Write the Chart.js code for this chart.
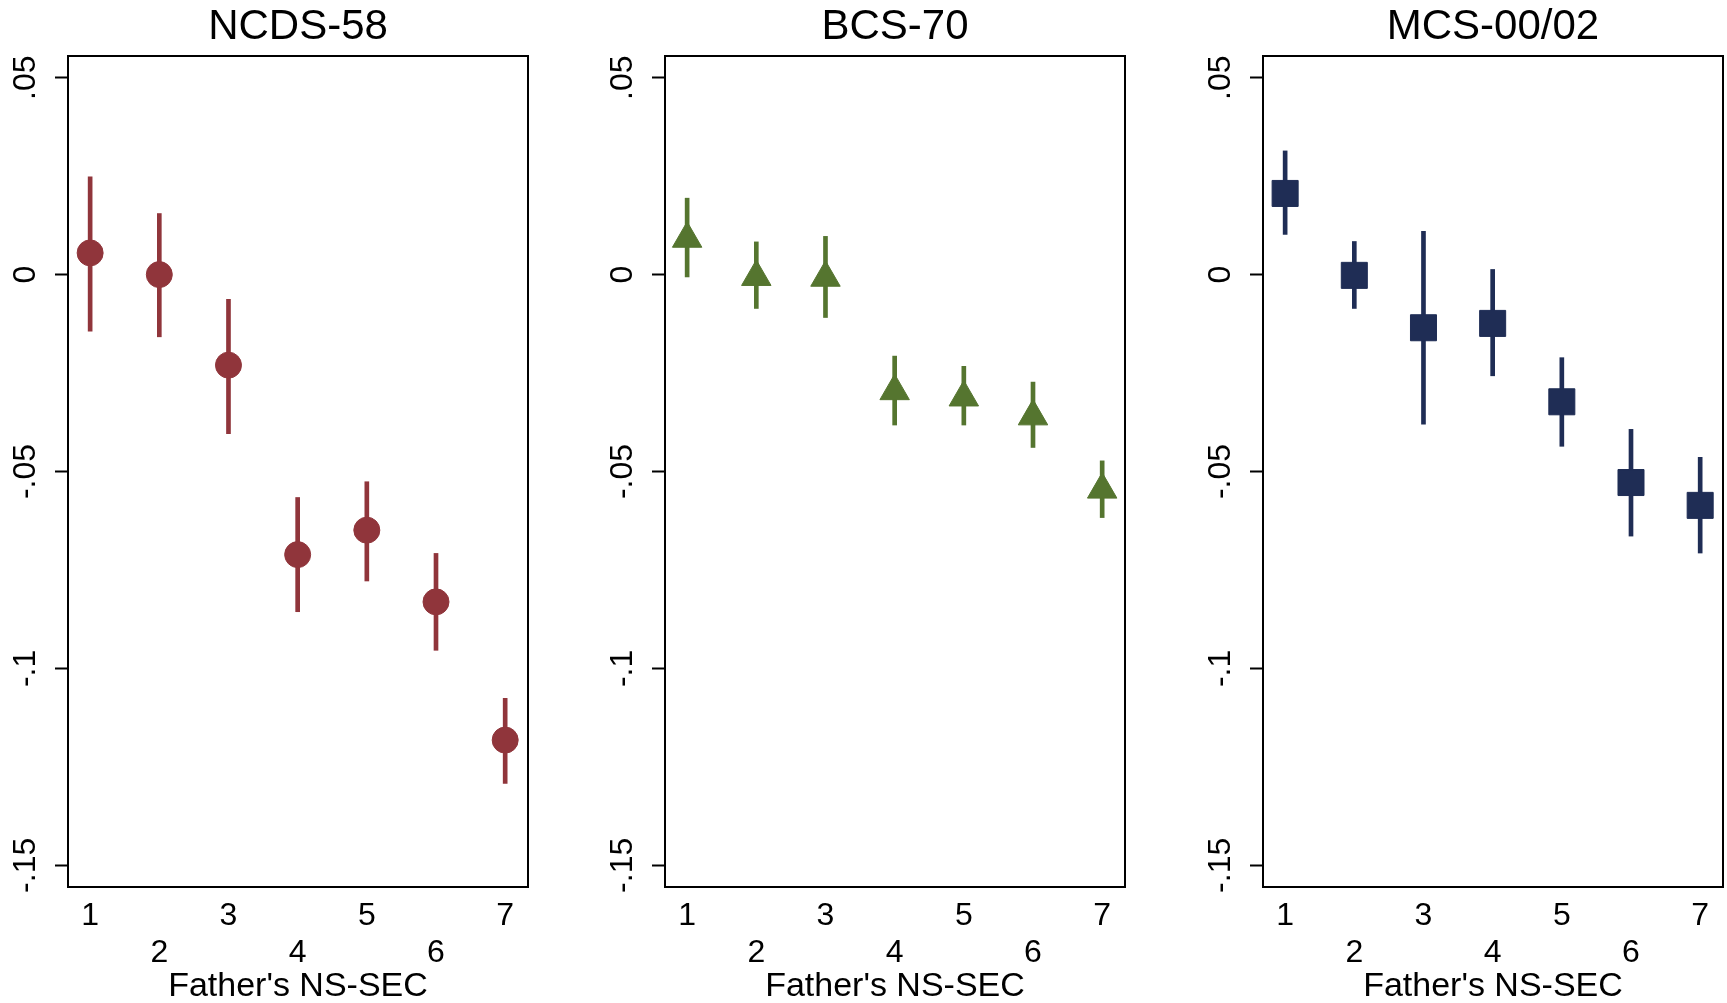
<!DOCTYPE html>
<html>
<head>
<meta charset="utf-8">
<title>Father's NS-SEC by cohort</title>
<script src="https://cdn.jsdelivr.net/npm/chart.js@4.4.1/dist/chart.umd.min.js"></script>
<style>
  html, body { margin: 0; padding: 0; background: #fff; overflow: hidden; }
  .panel { position: absolute; top: 0; }
</style>
</head>
<body>
<canvas id="ncds" class="panel" width="532" height="1003" style="left:0px"></canvas>
<canvas id="bcs" class="panel" width="532" height="1003" style="left:597px"></canvas>
<canvas id="mcs" class="panel" width="532" height="1003" style="left:1195px"></canvas>
<script>
// Father's NS-SEC categories and tick labels
const categories = [1, 2, 3, 4, 5, 6, 7];
const yTicks = [0.05, 0, -0.05, -0.1, -0.15];
const yTickLabels = ['.05', '0', '-.05', '-.1', '-.15'];

// NCDS-58
const ncdsEst = [0.0055, 0.0, -0.0230, -0.0711, -0.0649, -0.0831, -0.1182];
const ncdsLo  = [-0.0144, -0.0158, -0.0404, -0.0856, -0.0778, -0.0954, -0.1292];
const ncdsHi  = [0.0248, 0.0155, -0.0063, -0.0566, -0.0526, -0.0708, -0.1076];

// BCS-70
const bcsEst = [0.0091, -0.0006, -0.0008, -0.0296, -0.0312, -0.0360, -0.0546];
const bcsLo  = [-0.0006, -0.0086, -0.0109, -0.0382, -0.0382, -0.0439, -0.0617];
const bcsHi  = [0.0194, 0.0083, 0.0097, -0.0207, -0.0233, -0.0273, -0.0473];

// MCS-00/02
const mcsEst = [0.0206, -0.0002, -0.0135, -0.0124, -0.0323, -0.0528, -0.0586];
const mcsLo  = [0.0102, -0.0086, -0.0380, -0.0257, -0.0436, -0.0664, -0.0707];
const mcsHi  = [0.0314, 0.0084, 0.0110, 0.0013, -0.0211, -0.0393, -0.0464];

const FONT = '"Liberation Sans", Arial, Helvetica, sans-serif';
Chart.defaults.font.family = FONT;
Chart.defaults.color = '#000';

// frame, panel title and rotated y labels
const panelDecor = {
  id: 'panelDecor',
  afterDraw(chart, args, opts) {
    const { ctx, chartArea: area, scales } = chart;
    ctx.save();
    ctx.strokeStyle = '#000';
    ctx.lineWidth = 2;
    ctx.strokeRect(area.left, area.top, area.right - area.left, area.bottom - area.top);

    ctx.fillStyle = '#000';
    ctx.textAlign = 'center';
    ctx.textBaseline = 'middle';
    ctx.font = '42px ' + FONT;
    ctx.fillText(opts.text, (area.left + area.right) / 2, 27);

    ctx.font = '32px ' + FONT;
    scales.y.ticks.forEach(t => {
      const y = scales.y.getPixelForValue(t.value);
      ctx.save();
      ctx.translate(26, y);
      ctx.rotate(-Math.PI / 2);
      ctx.fillText(yTickLabels[yTicks.indexOf(t.value)], 0, 0);
      ctx.restore();
    });
    ctx.restore();
  }
};

function makePanel(id, title, est, lo, hi, color, style, radius) {
  const ctx = document.getElementById(id).getContext('2d');
  return new Chart(ctx, {
    type: 'scatter',
    data: {
      datasets: [{
        type: 'scatter',
        data: categories.map((c, i) => ({ x: c, y: est[i] })),
        pointStyle: style,
        pointRadius: radius,
        pointBackgroundColor: color,
        pointBorderColor: color,
        pointBorderWidth: 1,
        order: 1,
      }, {
        type: 'bar',
        data: categories.map((c, i) => ({ x: c, y: [lo[i], hi[i]] })),
        backgroundColor: color,
        borderWidth: 0,
        barThickness: 4,
        order: 2,
      }],
    },
    options: {
      responsive: false,
      animation: false,
      devicePixelRatio: 1,
      layout: { autoPadding: false, padding: { top: 56, right: 4, left: 0, bottom: 0 } },
      plugins: {
        legend: { display: false },
        tooltip: { enabled: false },
        panelDecor: { text: title },
      },
      scales: {
        x: {
          type: 'linear',
          min: 0.68,
          max: 7.33,
          offset: false,
          afterBuildTicks: scale => { scale.ticks = categories.map(v => ({ value: v })); },
          afterFit: scale => {
            scale.height = 116;
            scale.paddingLeft = 0;
            scale.paddingRight = 0;
          },
          grid: { display: true, drawOnChartArea: false, drawTicks: false, offset: false },
          border: { display: false },
          ticks: {
            padding: 11,
            maxRotation: 0,
            autoSkip: false,
            font: { size: 32, lineHeight: 1.15 },
            callback: v => (v % 2 === 1 ? [String(v), ''] : ['', String(v)]),
          },
          title: {
            display: true,
            text: "Father's NS-SEC",
            font: { size: 34, lineHeight: 1.2 },
            padding: { top: 0, bottom: -4 },
          },
        },
        y: {
          type: 'linear',
          min: -0.1555,
          max: 0.0555,
          afterBuildTicks: scale => { scale.ticks = yTicks.map(v => ({ value: v })); },
          afterFit: scale => {
            scale.width = 68;
            scale.paddingTop = 0;
            scale.paddingBottom = 0;
          },
          grid: {
            drawOnChartArea: false,
            drawTicks: true,
            tickLength: 13,
            tickColor: '#000',
            tickWidth: 2,
          },
          border: { display: false },
          ticks: { display: false },
        },
      },
    },
    plugins: [panelDecor],
  });
}

makePanel('ncds', 'NCDS-58', ncdsEst, ncdsLo, ncdsHi, '#90353b', 'circle', 13);
makePanel('bcs', 'BCS-70', bcsEst, bcsLo, bcsHi, '#55752f', 'triangle', 17);
makePanel('mcs', 'MCS-00/02', mcsEst, mcsLo, mcsHi, '#1f2d55', 'rect', 18.4);
</script>
</body>
</html>
